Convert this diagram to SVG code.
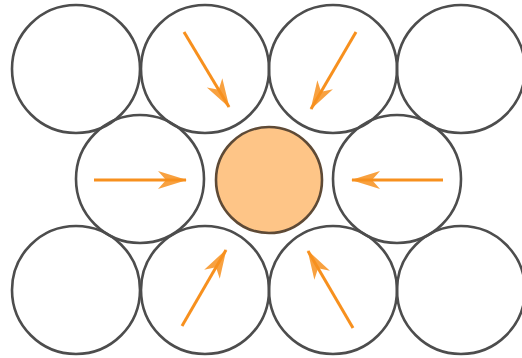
<svg xmlns="http://www.w3.org/2000/svg" width="522" height="358" viewBox="0 0 522 358">
<style>
.c{fill:none;stroke:#4d4d4d;stroke-width:2.6}
.o{fill:#FEC587;stroke:#5e4a36;stroke-width:2.6}
.a{fill:none;stroke:#F7901E;stroke-width:3;marker-end:url(#ah)}
</style>
<defs>
<marker id="ah" markerUnits="userSpaceOnUse" viewBox="-30 -10 32 20" refX="0" refY="0" markerWidth="32" markerHeight="20" orient="auto">
<path d="M1,0 L-28,-9 L-20,0 L-28,9 Z" fill="#F7901E" fill-opacity="0.85"/>
</marker>
</defs>
<rect width="522" height="358" fill="#fff"/>
<g id="t1"><circle class="c" cx="76" cy="69" r="64"/></g>
<g id="t2"><circle class="c" cx="205" cy="69" r="64"/></g>
<g id="t3"><circle class="c" cx="333" cy="69" r="64"/></g>
<g id="t4"><circle class="c" cx="461" cy="69" r="64"/></g>
<g id="m1"><circle class="c" cx="140" cy="179" r="64"/></g>
<g id="m2"><circle class="o" cx="269" cy="180" r="53"/></g>
<g id="m3"><circle class="c" cx="397" cy="179" r="64"/></g>
<g id="b1"><circle class="c" cx="76" cy="290" r="64"/></g>
<g id="b2"><circle class="c" cx="205" cy="290" r="64"/></g>
<g id="b3"><circle class="c" cx="333" cy="290" r="64"/></g>
<g id="b4"><circle class="c" cx="461" cy="290" r="64"/></g>
<g id="connectors">
<line class="a" x1="184" y1="32" x2="229" y2="107"/>
<line class="a" x1="356" y1="32" x2="311" y2="109"/>
<line class="a" x1="94" y1="180" x2="186" y2="180"/>
<line class="a" x1="443" y1="180" x2="352" y2="180"/>
<line class="a" x1="182" y1="326" x2="226" y2="250"/>
<line class="a" x1="353" y1="328" x2="308" y2="251"/>
</g>
</svg>
